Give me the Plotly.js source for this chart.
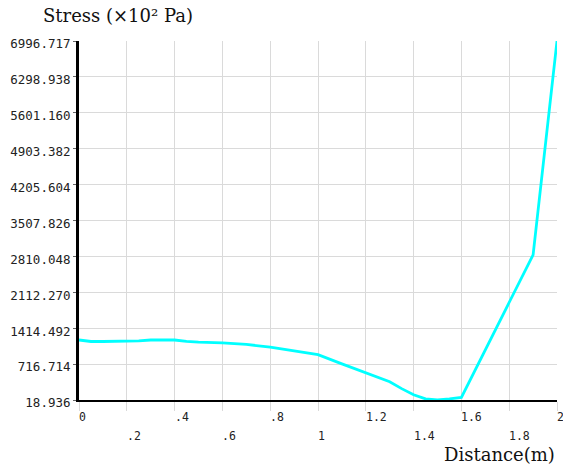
<!DOCTYPE html>
<html>
<head>
<meta charset="utf-8">
<script src="https://cdn.plot.ly/plotly-3.0.1.min.js"></script>
<style>html,body{margin:0;padding:0;background:#fff;}#chart{width:563px;height:466px;}</style>
</head>
<body>
<div id="chart"></div>
<script>
// Data
const distance = [0, 0.05, 0.1, 0.2, 0.25, 0.3, 0.4, 0.45, 0.5, 0.6, 0.7, 0.8, 0.9, 1.0, 1.1, 1.2, 1.3, 1.35, 1.4, 1.45, 1.5, 1.55, 1.6, 1.9, 2.0];
const stress = [1185, 1156, 1156, 1156, 1170, 1185, 1185, 1160, 1145, 1130, 1100, 1045, 975, 900, 720, 545, 375, 240, 120, 40, 19, 40, 70, 2840, 6996.717];

const yTickVals = [18.936, 716.714, 1414.492, 2112.270, 2810.048, 3507.826, 4205.604, 4903.382, 5601.160, 6298.938, 6996.717];
const yTickText = ["18.936", "716.714", "1414.492", "2112.270", "2810.048", "3507.826", "4205.604", "4903.382", "5601.160", "6298.938", "6996.717"];
const xTickVals = [0, 0.2, 0.4, 0.6, 0.8, 1.0, 1.2, 1.4, 1.6, 1.8, 2.0];
const xTickText = ["0", ".2", ".4", ".6", ".8", "1", "1.2", "1.4", "1.6", "1.8", "2"];

const yTitle = "Stress (×10² Pa)";
const xTitle = "Distance(m)";

const mono = "DejaVu Sans Mono, Liberation Mono, monospace";
const serif = "DejaVu Serif, Liberation Serif, serif";

const annotations = xTickVals.map((v, i) => ({
  x: v, xref: 'x', y: (i % 2 === 0) ? -0.0487 : -0.1003, yref: 'paper',
  text: xTickText[i], showarrow: false, xanchor: 'left', yanchor: 'middle', xshift: -2,
  font: {family: mono, size: 11.5, color: '#222'}
}));
annotations.push({
  x: -0.0795, xref: 'paper', y: 1.0724, yref: 'paper', text: yTitle, showarrow: false,
  xanchor: 'left', yanchor: 'middle', font: {family: serif, size: 18, color: '#111'}
});
annotations.push({
  x: 1.0, xref: 'paper', y: -0.1532, yref: 'paper', text: xTitle, showarrow: false,
  xanchor: 'right', yanchor: 'middle', font: {family: serif, size: 18, color: '#111'}
});

const trace = {
  x: distance, y: stress, type: 'scatter', mode: 'lines',
  line: {color: '#00FFFF', width: 2.8}, hoverinfo: 'skip'
};

const layout = {
  width: 563, height: 466,
  margin: {l: 79, r: 6, t: 41, b: 66, pad: 0},
  paper_bgcolor: '#fff', plot_bgcolor: '#fff',
  showlegend: false,
  xaxis: {
    range: [0, 2], tickvals: xTickVals, showticklabels: false,
    showgrid: true, gridcolor: '#dadada', gridwidth: 1,
    zeroline: false, showline: true, linecolor: '#000', linewidth: 2,
    ticks: 'outside', ticklen: 9, tickcolor: '#dadada', tickwidth: 1
  },
  yaxis: {
    range: [18.936, 6996.717], tickvals: yTickVals, ticktext: yTickText,
    showgrid: true, gridcolor: '#dadada', gridwidth: 1,
    zeroline: false, showline: true, linecolor: '#000', linewidth: 3,
    ticks: 'outside', ticklen: 3, tickcolor: '#666', tickwidth: 1,
    ticklabelshift: 3,
    tickfont: {family: mono, size: 12.5, color: '#222'}
  },
  annotations: annotations
};

Plotly.newPlot('chart', [trace], layout, {displayModeBar: false, staticPlot: true});
</script>
</body>
</html>
